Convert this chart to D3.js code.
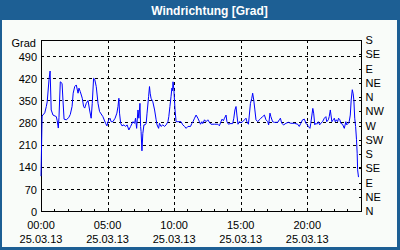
<!DOCTYPE html>
<html><head><meta charset="utf-8">
<script src="https://cdn.jsdelivr.net/npm/d3@7"></script>
<style>html,body{margin:0;padding:0;background:#fff;}svg{display:block;}</style>
</head><body><svg id="c" width="400" height="250"></svg>
<script>
const title = "Windrichtung [Grad]";
const yUnit = "Grad";
const leftTicks = [0, 70, 140, 210, 280, 350, 420, 490];
const rightTickLabels = ["N","NE","E","SE","S","SW","W","NW","N","NE","E","SE","S"];
const timeTickHours = [0, 5, 10, 15, 20];
const dateLabel = "25.03.13";
// minutes of day (25.03.13) and wind direction in degrees
const minutes = [0,5,17,24,28,36,41,46,54,69,73,78,81,87,95,99,104,114,125,132,140,145,152,159,167,171,177,186,192,197,204,212,219,226,231,237,242,249,257,264,279,291,297,305,311,316,324,334,342,347,351,354,359,365,374,381,388,396,404,414,422,426,431,437,441,446,449,451,455,459,464,469,474,478,485,489,492,496,504,512,519,523,530,534,541,549,557,564,572,576,581,586,590,593,595,599,602,604,609,617,631,639,647,654,662,674,680,685,692,699,707,714,719,725,729,737,744,752,759,766,782,797,804,811,816,822,827,834,838,845,852,864,869,874,879,883,888,894,901,909,917,924,928,935,939,944,950,954,959,964,969,977,984,991,999,1007,1014,1022,1026,1032,1036,1044,1052,1059,1067,1074,1079,1085,1094,1104,1115,1126,1142,1157,1164,1171,1179,1187,1194,1198,1205,1212,1216,1221,1225,1229,1234,1239,1243,1250,1256,1261,1269,1277,1284,1288,1295,1299,1304,1307,1311,1317,1322,1326,1331,1337,1341,1347,1351,1359,1367,1374,1378,1385,1389,1394,1398,1403,1407,1410,1414,1418,1422,1425,1427,1431];
const degrees = [110,300,310,330,345,414,442,319,303,298,285,262,295,408,403,350,290,288,295,305,330,372,393,398,372,388,377,356,330,325,340,349,319,293,340,419,416,393,340,314,298,277,269,288,293,282,282,293,309,330,356,309,277,269,272,267,272,256,267,282,277,293,261,319,293,340,267,251,190,245,272,272,277,309,361,393,372,356,345,319,288,272,261,277,267,272,267,272,282,298,330,361,388,380,408,383,345,319,282,282,282,272,267,261,267,267,277,282,293,303,293,282,274,282,276,288,282,288,280,274,274,274,269,282,290,285,293,303,282,274,276,276,293,319,330,303,274,282,279,282,288,293,282,274,303,340,356,372,350,319,288,282,288,293,298,303,288,282,272,309,298,282,280,280,280,288,293,277,272,277,280,277,277,274,267,277,288,290,277,274,267,261,277,303,324,309,272,277,274,282,272,277,282,293,298,282,288,298,319,303,282,288,293,282,288,282,293,288,277,274,261,282,272,277,282,303,350,383,370,350,293,267,225,182,130,107];

const svg = d3.select("#c");
const W = 400, H = 250;
const frame = "#1d5f94";
const font = "'Liberation Sans', Arial, sans-serif";
svg.append("rect").attr("width", W).attr("height", H).attr("fill", frame);
svg.append("rect").attr("x", 2).attr("y", 20).attr("width", 395).attr("height", 227).attr("fill", "#f9fcf9");
svg.append("text").attr("x", 209.5).attr("y", 14.5).attr("text-anchor", "middle")
  .attr("fill", "#fff").attr("font-family", font).attr("font-weight", "bold").attr("font-size", 12).text(title);

const L = 41, R = 360.5, T = 40, B = 211;
const day = new Date(2013, 2, 25);
const t = m => new Date(day.getTime() + m * 60000);
const x = d3.scaleTime().domain([t(0), t(1440)]).range([L, R]);
const y = d3.scaleLinear().domain([0, 540]).range([B, T]);

const g = svg.append("g").attr("shape-rendering", "crispEdges");
// horizontal grid
g.selectAll(".hg").data(leftTicks.filter(v => v > 0)).join("line")
  .attr("x1", L).attr("x2", R).attr("y1", d => Math.round(y(d)) + 0.5).attr("y2", d => Math.round(y(d)) + 0.5)
  .attr("stroke", "#000").attr("stroke-dasharray", "3,3");
// vertical grid
g.selectAll(".vg").data(timeTickHours.filter(h => h > 0)).join("line")
  .attr("x1", d => Math.round(x(t(d * 60))) + 0.5).attr("x2", d => Math.round(x(t(d * 60))) + 0.5)
  .attr("y1", T).attr("y2", B).attr("stroke", "#000").attr("stroke-dasharray", "3,3");

// data line
const line = d3.line().x((d, i) => x(t(minutes[i]))).y(d => y(d));
svg.append("path").datum(degrees).attr("d", line).attr("fill", "none")
  .attr("stroke", "#0000ff").attr("stroke-width", 1).attr("stroke-linejoin", "round");

// frame box
g.append("rect").attr("x", L + 0.5).attr("y", T + 0.5).attr("width", Math.round(R - L) - 0.5).attr("height", B - T)
  .attr("fill", "none").attr("stroke", "#000");

// left axis
const ya = d3.axisLeft(y).tickValues(leftTicks).tickSize(0).tickPadding(4);
const yl = svg.append("g").attr("transform", `translate(${L},0)`).call(ya);
yl.select(".domain").remove();
yl.selectAll("text").attr("font-family", font).attr("font-size", 11).attr("fill", "#000").attr("dy", "0.38em");
svg.append("text").attr("x", 36).attr("y", 47).attr("text-anchor", "end")
  .attr("font-family", font).attr("font-size", 11).text(yUnit);

// right axis
const yr = d3.scaleLinear().domain([0, 540]).range([B, T]);
const ra = d3.axisRight(yr).tickValues(d3.range(0, 541, 45)).tickSize(-3).tickPadding(5)
  .tickFormat((d, i) => rightTickLabels[i]);
const rg = svg.append("g").attr("transform", `translate(${Math.round(R) + 0.5},0)`).call(ra);
rg.select(".domain").remove();
rg.selectAll("line").attr("shape-rendering", "crispEdges");
rg.selectAll("text").attr("font-family", font).attr("font-size", 11).attr("fill", "#000").attr("x", 4);

// bottom axis: hourly minor ticks inside
const xa = d3.axisBottom(x).ticks(d3.timeHour.every(1)).tickSize(-3).tickFormat("");
const xg = svg.append("g").attr("transform", `translate(0,${B + 0.5})`).call(xa);
xg.select(".domain").remove();
xg.selectAll("line").attr("shape-rendering", "crispEdges");
const lab = svg.append("g").selectAll("g").data(timeTickHours).join("g")
  .attr("transform", d => `translate(${x(t(d * 60))},0)`);
lab.append("text").attr("y", 229).attr("text-anchor", "middle").attr("font-family", font).attr("font-size", 11)
  .text(d => d3.timeFormat("%H:%M")(t(d * 60)));
lab.append("text").attr("y", 243).attr("text-anchor", "middle").attr("font-family", font).attr("font-size", 11)
  .text(dateLabel);
</script></body></html>
